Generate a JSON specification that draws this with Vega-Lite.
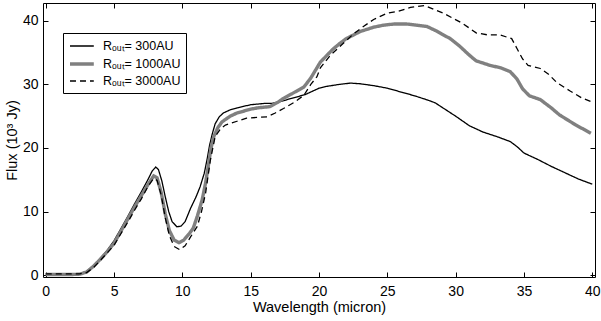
{
  "$schema": "https://vega.github.io/schema/vega-lite/v6.json",
  "width": 552,
  "height": 274,
  "autosize": {"type": "none"},
  "padding": {"left": 43, "top": 3, "right": 6, "bottom": 44},
  "background": "white",
  "config": {
    "font": "Liberation Sans",
    "view": {"stroke": "black", "strokeWidth": 1},
    "axis": {"grid": false, "domain": false, "tickColor": "black", "tickSize": -5, "labelColor": "black", "labelFontSize": 14, "labelFont": "Liberation Sans", "titleFont": "Liberation Sans", "titleFontSize": 14.5, "titleFontWeight": "normal", "titleColor": "black"}
  },
  "datasets": {
    "flux": [
      {"s":"R\u2092\u1d64\u209c= 300AU","x":0,"y":0.15},{"s":"R\u2092\u1d64\u209c= 300AU","x":1,"y":0.15},{"s":"R\u2092\u1d64\u209c= 300AU","x":2,"y":0.15},{"s":"R\u2092\u1d64\u209c= 300AU","x":2.5,"y":0.2},{"s":"R\u2092\u1d64\u209c= 300AU","x":3,"y":0.6},{"s":"R\u2092\u1d64\u209c= 300AU","x":3.5,"y":1.5},{"s":"R\u2092\u1d64\u209c= 300AU","x":4,"y":2.6},{"s":"R\u2092\u1d64\u209c= 300AU","x":4.5,"y":3.9},{"s":"R\u2092\u1d64\u209c= 300AU","x":5,"y":5.4},{"s":"R\u2092\u1d64\u209c= 300AU","x":5.5,"y":7.3},{"s":"R\u2092\u1d64\u209c= 300AU","x":6,"y":9.2},{"s":"R\u2092\u1d64\u209c= 300AU","x":6.5,"y":11.2},{"s":"R\u2092\u1d64\u209c= 300AU","x":7,"y":13.1},{"s":"R\u2092\u1d64\u209c= 300AU","x":7.5,"y":15.1},{"s":"R\u2092\u1d64\u209c= 300AU","x":7.8,"y":16.4},{"s":"R\u2092\u1d64\u209c= 300AU","x":8.05,"y":17.0},{"s":"R\u2092\u1d64\u209c= 300AU","x":8.25,"y":16.6},{"s":"R\u2092\u1d64\u209c= 300AU","x":8.5,"y":14.8},{"s":"R\u2092\u1d64\u209c= 300AU","x":8.75,"y":12.3},{"s":"R\u2092\u1d64\u209c= 300AU","x":9.0,"y":10.0},{"s":"R\u2092\u1d64\u209c= 300AU","x":9.25,"y":8.4},{"s":"R\u2092\u1d64\u209c= 300AU","x":9.6,"y":7.6},{"s":"R\u2092\u1d64\u209c= 300AU","x":9.9,"y":7.7},{"s":"R\u2092\u1d64\u209c= 300AU","x":10.2,"y":8.4},{"s":"R\u2092\u1d64\u209c= 300AU","x":10.6,"y":10.5},{"s":"R\u2092\u1d64\u209c= 300AU","x":11.0,"y":12.3},{"s":"R\u2092\u1d64\u209c= 300AU","x":11.3,"y":13.9},{"s":"R\u2092\u1d64\u209c= 300AU","x":11.6,"y":16.0},{"s":"R\u2092\u1d64\u209c= 300AU","x":11.8,"y":18.1},{"s":"R\u2092\u1d64\u209c= 300AU","x":12.0,"y":20.5},{"s":"R\u2092\u1d64\u209c= 300AU","x":12.2,"y":22.3},{"s":"R\u2092\u1d64\u209c= 300AU","x":12.4,"y":23.8},{"s":"R\u2092\u1d64\u209c= 300AU","x":12.7,"y":24.9},{"s":"R\u2092\u1d64\u209c= 300AU","x":13.0,"y":25.5},{"s":"R\u2092\u1d64\u209c= 300AU","x":13.5,"y":26.0},{"s":"R\u2092\u1d64\u209c= 300AU","x":14,"y":26.3},{"s":"R\u2092\u1d64\u209c= 300AU","x":15,"y":26.8},{"s":"R\u2092\u1d64\u209c= 300AU","x":16,"y":27.0},{"s":"R\u2092\u1d64\u209c= 300AU","x":16.5,"y":27.0},{"s":"R\u2092\u1d64\u209c= 300AU","x":17,"y":27.2},{"s":"R\u2092\u1d64\u209c= 300AU","x":17.5,"y":27.5},{"s":"R\u2092\u1d64\u209c= 300AU","x":18,"y":27.8},{"s":"R\u2092\u1d64\u209c= 300AU","x":19,"y":28.4},{"s":"R\u2092\u1d64\u209c= 300AU","x":20,"y":29.4},{"s":"R\u2092\u1d64\u209c= 300AU","x":20.6,"y":29.7},{"s":"R\u2092\u1d64\u209c= 300AU","x":21.5,"y":30.0},{"s":"R\u2092\u1d64\u209c= 300AU","x":22.3,"y":30.2},{"s":"R\u2092\u1d64\u209c= 300AU","x":23,"y":30.1},{"s":"R\u2092\u1d64\u209c= 300AU","x":24,"y":29.8},{"s":"R\u2092\u1d64\u209c= 300AU","x":25,"y":29.4},{"s":"R\u2092\u1d64\u209c= 300AU","x":26,"y":28.8},{"s":"R\u2092\u1d64\u209c= 300AU","x":27,"y":28.2},{"s":"R\u2092\u1d64\u209c= 300AU","x":28,"y":27.5},{"s":"R\u2092\u1d64\u209c= 300AU","x":28.5,"y":27.1},{"s":"R\u2092\u1d64\u209c= 300AU","x":29,"y":26.4},{"s":"R\u2092\u1d64\u209c= 300AU","x":30,"y":25.0},{"s":"R\u2092\u1d64\u209c= 300AU","x":31,"y":23.5},{"s":"R\u2092\u1d64\u209c= 300AU","x":32,"y":22.5},{"s":"R\u2092\u1d64\u209c= 300AU","x":33,"y":21.8},{"s":"R\u2092\u1d64\u209c= 300AU","x":34,"y":21.0},{"s":"R\u2092\u1d64\u209c= 300AU","x":34.5,"y":20.2},{"s":"R\u2092\u1d64\u209c= 300AU","x":35,"y":19.2},{"s":"R\u2092\u1d64\u209c= 300AU","x":36,"y":18.2},{"s":"R\u2092\u1d64\u209c= 300AU","x":37,"y":17.1},{"s":"R\u2092\u1d64\u209c= 300AU","x":38,"y":16.1},{"s":"R\u2092\u1d64\u209c= 300AU","x":39,"y":15.1},{"s":"R\u2092\u1d64\u209c= 300AU","x":40,"y":14.3},

      {"s":"R\u2092\u1d64\u209c= 1000AU","x":0,"y":0.1},{"s":"R\u2092\u1d64\u209c= 1000AU","x":1,"y":0.1},{"s":"R\u2092\u1d64\u209c= 1000AU","x":2,"y":0.1},{"s":"R\u2092\u1d64\u209c= 1000AU","x":2.5,"y":0.15},{"s":"R\u2092\u1d64\u209c= 1000AU","x":3,"y":0.5},{"s":"R\u2092\u1d64\u209c= 1000AU","x":3.5,"y":1.4},{"s":"R\u2092\u1d64\u209c= 1000AU","x":4,"y":2.5},{"s":"R\u2092\u1d64\u209c= 1000AU","x":4.5,"y":3.7},{"s":"R\u2092\u1d64\u209c= 1000AU","x":5,"y":5.0},{"s":"R\u2092\u1d64\u209c= 1000AU","x":5.5,"y":6.9},{"s":"R\u2092\u1d64\u209c= 1000AU","x":6,"y":8.8},{"s":"R\u2092\u1d64\u209c= 1000AU","x":6.5,"y":10.7},{"s":"R\u2092\u1d64\u209c= 1000AU","x":7,"y":12.5},{"s":"R\u2092\u1d64\u209c= 1000AU","x":7.5,"y":14.3},{"s":"R\u2092\u1d64\u209c= 1000AU","x":7.9,"y":15.6},{"s":"R\u2092\u1d64\u209c= 1000AU","x":8.15,"y":15.3},{"s":"R\u2092\u1d64\u209c= 1000AU","x":8.45,"y":13.0},{"s":"R\u2092\u1d64\u209c= 1000AU","x":8.75,"y":9.6},{"s":"R\u2092\u1d64\u209c= 1000AU","x":9.05,"y":7.0},{"s":"R\u2092\u1d64\u209c= 1000AU","x":9.4,"y":5.5},{"s":"R\u2092\u1d64\u209c= 1000AU","x":9.75,"y":5.1},{"s":"R\u2092\u1d64\u209c= 1000AU","x":10.1,"y":5.5},{"s":"R\u2092\u1d64\u209c= 1000AU","x":10.5,"y":6.5},{"s":"R\u2092\u1d64\u209c= 1000AU","x":10.8,"y":7.4},{"s":"R\u2092\u1d64\u209c= 1000AU","x":11.1,"y":9.3},{"s":"R\u2092\u1d64\u209c= 1000AU","x":11.45,"y":11.85},{"s":"R\u2092\u1d64\u209c= 1000AU","x":11.7,"y":14.5},{"s":"R\u2092\u1d64\u209c= 1000AU","x":11.93,"y":17.6},{"s":"R\u2092\u1d64\u209c= 1000AU","x":12.1,"y":20.0},{"s":"R\u2092\u1d64\u209c= 1000AU","x":12.3,"y":21.8},{"s":"R\u2092\u1d64\u209c= 1000AU","x":12.6,"y":23.2},{"s":"R\u2092\u1d64\u209c= 1000AU","x":12.9,"y":24.1},{"s":"R\u2092\u1d64\u209c= 1000AU","x":13.5,"y":25.0},{"s":"R\u2092\u1d64\u209c= 1000AU","x":14,"y":25.5},{"s":"R\u2092\u1d64\u209c= 1000AU","x":15,"y":26.1},{"s":"R\u2092\u1d64\u209c= 1000AU","x":15.5,"y":26.3},{"s":"R\u2092\u1d64\u209c= 1000AU","x":16.4,"y":26.5},{"s":"R\u2092\u1d64\u209c= 1000AU","x":17,"y":27.2},{"s":"R\u2092\u1d64\u209c= 1000AU","x":17.4,"y":27.8},{"s":"R\u2092\u1d64\u209c= 1000AU","x":18,"y":28.5},{"s":"R\u2092\u1d64\u209c= 1000AU","x":18.9,"y":29.6},{"s":"R\u2092\u1d64\u209c= 1000AU","x":19.4,"y":31.0},{"s":"R\u2092\u1d64\u209c= 1000AU","x":20.1,"y":33.5},{"s":"R\u2092\u1d64\u209c= 1000AU","x":21,"y":35.5},{"s":"R\u2092\u1d64\u209c= 1000AU","x":21.5,"y":36.4},{"s":"R\u2092\u1d64\u209c= 1000AU","x":22,"y":37.2},{"s":"R\u2092\u1d64\u209c= 1000AU","x":23,"y":38.3},{"s":"R\u2092\u1d64\u209c= 1000AU","x":24,"y":39.0},{"s":"R\u2092\u1d64\u209c= 1000AU","x":24.7,"y":39.3},{"s":"R\u2092\u1d64\u209c= 1000AU","x":25.5,"y":39.5},{"s":"R\u2092\u1d64\u209c= 1000AU","x":26.4,"y":39.5},{"s":"R\u2092\u1d64\u209c= 1000AU","x":27.2,"y":39.3},{"s":"R\u2092\u1d64\u209c= 1000AU","x":27.9,"y":39.1},{"s":"R\u2092\u1d64\u209c= 1000AU","x":28.5,"y":38.5},{"s":"R\u2092\u1d64\u209c= 1000AU","x":29,"y":37.9},{"s":"R\u2092\u1d64\u209c= 1000AU","x":29.6,"y":37.2},{"s":"R\u2092\u1d64\u209c= 1000AU","x":30.3,"y":36.0},{"s":"R\u2092\u1d64\u209c= 1000AU","x":31,"y":34.6},{"s":"R\u2092\u1d64\u209c= 1000AU","x":31.5,"y":33.7},{"s":"R\u2092\u1d64\u209c= 1000AU","x":32.5,"y":33.0},{"s":"R\u2092\u1d64\u209c= 1000AU","x":33.3,"y":32.6},{"s":"R\u2092\u1d64\u209c= 1000AU","x":34,"y":32.0},{"s":"R\u2092\u1d64\u209c= 1000AU","x":34.5,"y":30.8},{"s":"R\u2092\u1d64\u209c= 1000AU","x":34.9,"y":29.3},{"s":"R\u2092\u1d64\u209c= 1000AU","x":35.4,"y":28.2},{"s":"R\u2092\u1d64\u209c= 1000AU","x":36.2,"y":27.6},{"s":"R\u2092\u1d64\u209c= 1000AU","x":37,"y":26.3},{"s":"R\u2092\u1d64\u209c= 1000AU","x":37.6,"y":25.2},{"s":"R\u2092\u1d64\u209c= 1000AU","x":38.2,"y":24.4},{"s":"R\u2092\u1d64\u209c= 1000AU","x":38.8,"y":23.6},{"s":"R\u2092\u1d64\u209c= 1000AU","x":39.4,"y":22.9},{"s":"R\u2092\u1d64\u209c= 1000AU","x":39.9,"y":22.3},

      {"s":"R\u2092\u1d64\u209c= 3000AU","x":0,"y":0.2},{"s":"R\u2092\u1d64\u209c= 3000AU","x":1,"y":0.2},{"s":"R\u2092\u1d64\u209c= 3000AU","x":2,"y":0.2},{"s":"R\u2092\u1d64\u209c= 3000AU","x":2.5,"y":0.2},{"s":"R\u2092\u1d64\u209c= 3000AU","x":3,"y":0.4},{"s":"R\u2092\u1d64\u209c= 3000AU","x":3.5,"y":1.2},{"s":"R\u2092\u1d64\u209c= 3000AU","x":4,"y":2.3},{"s":"R\u2092\u1d64\u209c= 3000AU","x":4.5,"y":3.5},{"s":"R\u2092\u1d64\u209c= 3000AU","x":5,"y":4.7},{"s":"R\u2092\u1d64\u209c= 3000AU","x":5.5,"y":6.5},{"s":"R\u2092\u1d64\u209c= 3000AU","x":6,"y":8.3},{"s":"R\u2092\u1d64\u209c= 3000AU","x":6.5,"y":10.2},{"s":"R\u2092\u1d64\u209c= 3000AU","x":7,"y":12.0},{"s":"R\u2092\u1d64\u209c= 3000AU","x":7.5,"y":14.0},{"s":"R\u2092\u1d64\u209c= 3000AU","x":7.9,"y":15.2},{"s":"R\u2092\u1d64\u209c= 3000AU","x":8.15,"y":14.9},{"s":"R\u2092\u1d64\u209c= 3000AU","x":8.45,"y":12.6},{"s":"R\u2092\u1d64\u209c= 3000AU","x":8.75,"y":9.0},{"s":"R\u2092\u1d64\u209c= 3000AU","x":9.05,"y":6.2},{"s":"R\u2092\u1d64\u209c= 3000AU","x":9.4,"y":4.5},{"s":"R\u2092\u1d64\u209c= 3000AU","x":9.8,"y":4.0},{"s":"R\u2092\u1d64\u209c= 3000AU","x":10.2,"y":4.6},{"s":"R\u2092\u1d64\u209c= 3000AU","x":10.6,"y":6.0},{"s":"R\u2092\u1d64\u209c= 3000AU","x":11.1,"y":7.7},{"s":"R\u2092\u1d64\u209c= 3000AU","x":11.4,"y":10.0},{"s":"R\u2092\u1d64\u209c= 3000AU","x":11.7,"y":12.9},{"s":"R\u2092\u1d64\u209c= 3000AU","x":12.05,"y":18.1},{"s":"R\u2092\u1d64\u209c= 3000AU","x":12.4,"y":21.8},{"s":"R\u2092\u1d64\u209c= 3000AU","x":12.8,"y":23.0},{"s":"R\u2092\u1d64\u209c= 3000AU","x":13.15,"y":23.6},{"s":"R\u2092\u1d64\u209c= 3000AU","x":14,"y":24.2},{"s":"R\u2092\u1d64\u209c= 3000AU","x":14.7,"y":24.7},{"s":"R\u2092\u1d64\u209c= 3000AU","x":15.5,"y":24.8},{"s":"R\u2092\u1d64\u209c= 3000AU","x":16.2,"y":24.9},{"s":"R\u2092\u1d64\u209c= 3000AU","x":16.8,"y":25.5},{"s":"R\u2092\u1d64\u209c= 3000AU","x":17.4,"y":26.2},{"s":"R\u2092\u1d64\u209c= 3000AU","x":18.2,"y":27.2},{"s":"R\u2092\u1d64\u209c= 3000AU","x":18.9,"y":28.3},{"s":"R\u2092\u1d64\u209c= 3000AU","x":19.4,"y":30.0},{"s":"R\u2092\u1d64\u209c= 3000AU","x":19.85,"y":31.2},{"s":"R\u2092\u1d64\u209c= 3000AU","x":20.1,"y":32.6},{"s":"R\u2092\u1d64\u209c= 3000AU","x":20.8,"y":34.5},{"s":"R\u2092\u1d64\u209c= 3000AU","x":21.8,"y":36.5},{"s":"R\u2092\u1d64\u209c= 3000AU","x":22.5,"y":37.9},{"s":"R\u2092\u1d64\u209c= 3000AU","x":23.25,"y":39.1},{"s":"R\u2092\u1d64\u209c= 3000AU","x":24,"y":40.2},{"s":"R\u2092\u1d64\u209c= 3000AU","x":25,"y":41.2},{"s":"R\u2092\u1d64\u209c= 3000AU","x":25.8,"y":41.5},{"s":"R\u2092\u1d64\u209c= 3000AU","x":26.7,"y":42.1},{"s":"R\u2092\u1d64\u209c= 3000AU","x":27.75,"y":42.4},{"s":"R\u2092\u1d64\u209c= 3000AU","x":28.4,"y":41.8},{"s":"R\u2092\u1d64\u209c= 3000AU","x":29.1,"y":41.2},{"s":"R\u2092\u1d64\u209c= 3000AU","x":29.8,"y":40.4},{"s":"R\u2092\u1d64\u209c= 3000AU","x":30.5,"y":39.6},{"s":"R\u2092\u1d64\u209c= 3000AU","x":31.5,"y":38.1},{"s":"R\u2092\u1d64\u209c= 3000AU","x":32.3,"y":37.8},{"s":"R\u2092\u1d64\u209c= 3000AU","x":33.2,"y":37.8},{"s":"R\u2092\u1d64\u209c= 3000AU","x":34.1,"y":37.2},{"s":"R\u2092\u1d64\u209c= 3000AU","x":34.5,"y":35.6},{"s":"R\u2092\u1d64\u209c= 3000AU","x":34.9,"y":34.0},{"s":"R\u2092\u1d64\u209c= 3000AU","x":35.3,"y":33.0},{"s":"R\u2092\u1d64\u209c= 3000AU","x":36.2,"y":32.5},{"s":"R\u2092\u1d64\u209c= 3000AU","x":36.8,"y":31.6},{"s":"R\u2092\u1d64\u209c= 3000AU","x":37.4,"y":30.3},{"s":"R\u2092\u1d64\u209c= 3000AU","x":38.35,"y":29.0},{"s":"R\u2092\u1d64\u209c= 3000AU","x":39.2,"y":27.9},{"s":"R\u2092\u1d64\u209c= 3000AU","x":40,"y":27.2}
    ]
  },
  "data": {"name": "flux"},
  "layer": [
    {
      "mark": {"type": "line", "clip": true},
      "encoding": {
        "x": {"field": "x", "type": "quantitative", "scale": {"domain": [-0.2, 40.2], "nice": false, "zero": false}, "axis": {"orient": "bottom", "values": [0,5,10,15,20,25,30,35,40], "title": "Wavelength (micron)", "labelPadding": 12, "titlePadding": 2}},
        "y": {"field": "y", "type": "quantitative", "scale": {"domain": [-0.3, 42.8], "nice": false, "zero": false}, "axis": {"orient": "left", "values": [0,10,20,30,40], "title": "Flux (10\u00b3  Jy)", "labelPadding": 10, "titlePadding": 3}},
        "color": {"field": "s", "type": "nominal", "scale": {"domain": ["R\u2092\u1d64\u209c= 300AU", "R\u2092\u1d64\u209c= 1000AU", "R\u2092\u1d64\u209c= 3000AU"], "range": ["#000000", "#808080", "#000000"]}, "legend": {"title": null, "orient": "none", "legendX": 20, "legendY": 30, "strokeColor": "black", "fillColor": "white", "padding": 5, "symbolType": "M-1,0H2.4", "symbolSize": 196, "labelFontSize": 12.5, "labelFont": "Liberation Sans", "labelColor": "black", "labelOffset": 17, "rowPadding": 2, "cornerRadius": 0}},
        "strokeDash": {"field": "s", "type": "nominal", "scale": {"domain": ["R\u2092\u1d64\u209c= 300AU", "R\u2092\u1d64\u209c= 1000AU", "R\u2092\u1d64\u209c= 3000AU"], "range": [[1, 0], [1, 0], [6, 4]]}, "legend": {"title": null}},
        "strokeWidth": {"field": "s", "type": "nominal", "scale": {"type": "ordinal", "domain": ["R\u2092\u1d64\u209c= 300AU", "R\u2092\u1d64\u209c= 1000AU", "R\u2092\u1d64\u209c= 3000AU"], "range": [1.3, 3.4, 1.3]}, "legend": {"title": null}}
      }
    },
    {
      "mark": {"type": "line", "opacity": 0},
      "encoding": {
        "x": {"field": "x", "type": "quantitative", "axis": {"orient": "top", "values": [0,5,10,15,20,25,30,35,40], "labels": false, "title": null}},
        "y": {"field": "y", "type": "quantitative", "axis": {"orient": "right", "values": [0,10,20,30,40], "labels": false, "title": null}},
        "detail": {"field": "s"}
      }
    }
  ],
  "resolve": {"axis": {"x": "independent", "y": "independent"}}
}
